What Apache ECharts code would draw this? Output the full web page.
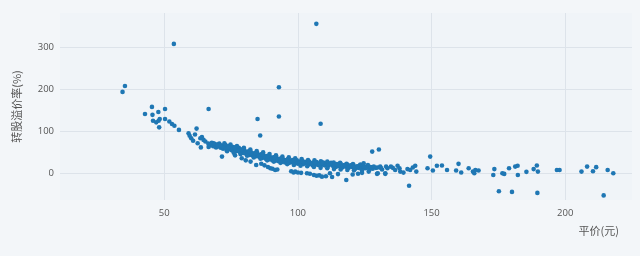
<!DOCTYPE html>
<html>
<head>
<meta charset="utf-8">
<script src="https://cdn.jsdelivr.net/npm/echarts@6/dist/echarts.min.js"></script>
<style>
html,body{margin:0;padding:0;background:#f3f6f9;}
#c{position:absolute;left:0;top:0;width:640px;height:256px;}
</style>
</head>
<body>
<div id="c"></div>
<script>
// 平价 (x) and 转股溢价率 (y)
const parity = [
34.4,35.3,42.8,45.4,45.6,45.8,47.0,47.8,47.9,48.3,48.1,50.3,50.3,51.9,52.9,53.8,53.6,55.5,59.1,59.5,
60.1,60.8,61.5,62.1,62.5,63.5,63.7,64.1,64.7,65.4,66.6,66.6,67.9,68.5,69.1,71.6,84.9,85.9,92.9,92.9,
106.9,108.5,127.8,130.3,149.5,141.6,118.1,175.2,180.1,189.6,214.4,
66.5,67.2,67.8,68.3,68.9,69.4,69.8,70.2,70.6,71.1,71.5,72.0,72.4,72.9,73.3,73.7,74.1,74.6,75.0,75.3,
75.8,76.2,76.6,77.0,77.4,77.9,78.3,78.7,79.1,79.5,80.0,80.4,80.8,81.2,81.6,82.0,82.4,82.8,83.2,83.6,
84.0,84.4,84.8,85.2,85.6,86.0,86.4,86.8,87.2,87.6,88.0,88.4,88.8,89.2,89.6,90.0,90.4,90.8,91.2,91.6,
92.0,92.4,92.8,93.2,93.6,94.0,94.4,94.8,95.2,95.6,96.0,96.4,96.8,97.2,97.6,98.0,98.4,98.8,99.2,99.6,
100.0,100.5,101.0,101.5,102.0,102.5,103.0,103.5,104.0,104.5,105.0,105.5,106.0,106.5,107.0,107.5,108.0,108.5,109.0,109.5,
110.0,110.6,111.2,111.8,112.4,113.0,113.6,114.2,114.8,115.4,116.0,116.6,117.2,117.8,118.4,119.0,119.6,120.2,120.8,121.4,
122.0,122.6,123.2,123.8,124.4,125.2,126.0,126.8,127.4,128.0,129.2,131.5,
70.0,71.8,73.0,74.3,75.5,76.9,78.0,79.3,80.2,81.4,82.6,83.8,85.0,86.2,87.4,88.6,89.8,91.0,92.2,93.4,
94.6,95.8,97.0,98.2,99.4,100.8,102.2,103.8,105.2,106.8,108.2,109.8,111.5,113.3,115.1,117.0,118.8,121.0,123.0,125.6,
72.5,74.8,77.2,79.8,82.2,84.6,87.0,89.4,91.8,94.2,96.6,99.0,101.4,103.8,106.2,108.6,111.0,113.4,115.8,118.2,120.6,123.4,126.2,
73.5,76.0,78.5,81.0,83.5,86.0,88.5,91.0,93.5,96.0,98.5,101.0,103.5,106.0,108.5,111.0,113.5,116.0,118.5,121.0,124.0,
71.0,73.9,76.4,78.9,81.9,84.2,86.6,89.0,91.4,93.9,96.2,98.6,101.8,104.2,106.4,109.2,112.2,114.6,117.4,119.8,122.4,124.8,127.2,129.8,131.0,133.5,135.5,
76.5,79.0,80.5,82.3,84.4,86.3,87.5,88.8,89.7,90.5,91.5,92.3,97.5,98.4,99.0,100.0,101.2,103.4,104.5,106.0,
107.0,108.0,109.0,110.5,112.0,112.8,115.0,120.5,122.5,124.0,126.5,129.6,132.7,
124.6,128.4,129.9,130.8,132.7,133.0,134.8,136.4,137.3,138.0,138.3,139.5,141.0,142.0,143.0,143.9,144.3,
148.5,150.5,152.0,153.9,155.8,159.2,160.1,161.1,163.9,165.5,166.0,166.4,167.6,173.1,173.5,176.5,177.2,179.0,181.3,
182.2,182.3,185.5,188.2,189.4,189.8,196.9,197.9,206.1,208.2,210.4,211.6,215.9,218.0
];
const premium = [
194,208,141,158,139,125,121,146,125,129,109,153,129,123,117,113,309,103,95,89,
83,77,92,106,71,83,61,86,79,75,62,153,67,71,63,39,129,89.5,205,135,
357,117.5,51,56,39,-31,-17,-44,-45.6,-48,-54,
70,66,72,64,69,61,67,63,70,60,65,58,63,67,56,61,64,57,60,54,
62,55,58,52,57,60,50,55,52,48,54,49,45,51,47,43,50,45,41,47,
44,40,46,42,38,44,39,36,42,38,34,40,36,32,38,35,30,37,33,29,
36,31,28,34,30,26,33,29,25,31,27,33,24,29,26,31,23,28,25,30,
22,27,24,29,21,26,23,28,20,25,22,18,24,21,26,19,23,17,21,25,
18,22,15,20,24,17,21,14,19,16,22,13,18,15,20,12,17,14,19,10,
15,12,18,9,14,11,16,8,13,10,12,8,
68,62,59,60,57,54,53,50,47,48,46,43,41,41,39,37,35,34,33,31,
30,28,27,27,26,25,24,24,23,22,20,20,19,18,17,16,15,14,13,12,
71,68,64,60,56,52,49,45,42,39,37,35,33,31,30,28,27,25,24,22,21,20,19,
52,48,45,41,37,34,30,27,24,21,19,17,16,14,12,11,9,8,7,6,5,
66,62,60,56,52,48,45,41,38,35,32,30,28,27,25,24,22,21,19,18,16,15,14,13,12,11,12,
42,35,30,27,19,22,18,14,11,10,7,8,4,1,3,1,0,-1,-2,-5,
-7,-6,-9,-8,-1,-10,-3,-4,-2,0,3,-2.4,-2.4,
23,15,-1,15,-1,15,15,7,17,11,3,0.7,9,7,12.7,17,3,
11,5.6,17,17.6,7,5.6,21.6,0.8,11,3,-1,7,5.6,-5,9,-1,-2.5,11,15,
17,-5,2.4,9,17.6,3,7,7,3,15,4,13.7,7,-1
];
const xTicks = [50, 100, 150, 200];
const yTicks = [0, 100, 200, 300];

const points = parity.map((x, i) => [x, premium[i]]);
const chart = echarts.init(document.getElementById('c'), null, {renderer: 'canvas'});
const txt = '#555';
chart.setOption({
  animation: false,
  backgroundColor: 'transparent',
  textStyle: {fontFamily: '"Open Sans", "Noto Sans CJK SC", sans-serif'},
  grid: {left: 60, right: 8, top: 13, bottom: 56, show: true, backgroundColor: '#f0f4f8', borderWidth: 0},
  xAxis: {
    type: 'value', min: 11, max: 225,
    axisLine: {show: false}, axisTick: {show: false},
    splitLine: {show: true, showMinLine: false, showMaxLine: false, lineStyle: {color: '#dde3ea', width: 1}},
    axisLabel: {color: txt, fontSize: 9.5, margin: 9, showMinLabel: false, showMaxLabel: false,
      formatter: v => xTicks.includes(v) ? String(v) : ''}
  },
  yAxis: {
    type: 'value', min: -65, max: 383,
    axisLine: {show: false}, axisTick: {show: false},
    splitLine: {show: true, showMinLine: false, showMaxLine: false, lineStyle: {color: '#dde3ea', width: 1}},
    axisLabel: {color: txt, fontSize: 9.5, margin: 6, showMinLabel: false, showMaxLabel: false,
      formatter: v => yTicks.includes(v) ? String(v) : ''},
    name: '转股溢价率(%)', nameLocation: 'middle', nameGap: 38, nameRotate: 90,
    nameTextStyle: {color: txt, fontSize: 11, fontFamily: '"Noto Sans CJK SC", sans-serif'}
  },
  graphic: [{
    type: 'text', right: 21, top: 225,
    style: {text: '平价(元)', fill: txt, fontSize: 11, fontFamily: '"Noto Sans CJK SC", sans-serif'}
  }],
  series: [{
    type: 'scatter', data: points, symbolSize: 4.6,
    itemStyle: {color: '#1f77b4', opacity: 1}
  }]
});
</script>
</body>
</html>
